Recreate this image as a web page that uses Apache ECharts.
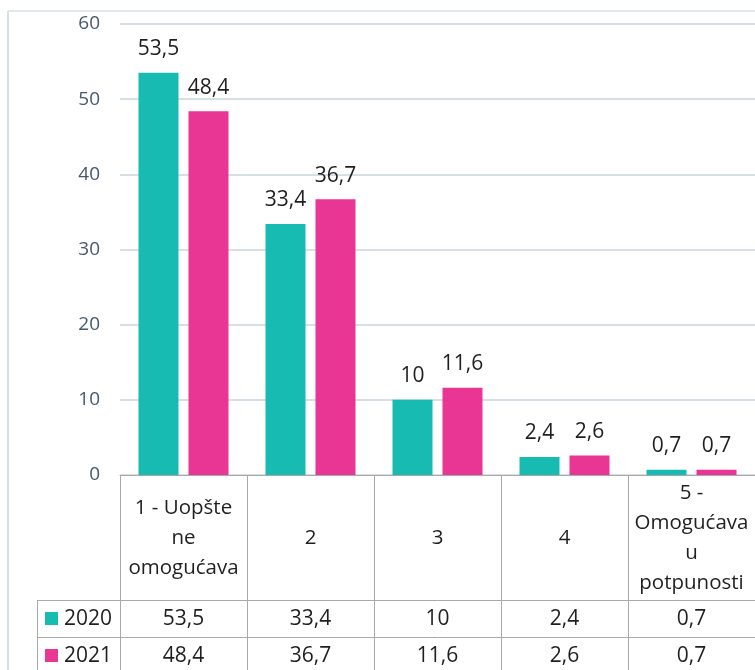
<!DOCTYPE html>
<html>
<head>
<meta charset="utf-8">
<script src="https://cdn.jsdelivr.net/npm/echarts@6/dist/echarts.min.js"></script>
<style>
html,body{margin:0;padding:0;background:#fff;}
#main{width:755px;height:670px;}
</style>
</head>
<body>
<div id="main"></div>
<script>
const categories = ['1 - Uopšte\nne\nomogućava', '2', '3', '4', '5 -\nOmogućava\nu\npotpunosti'];
const seriesNames = ['2020', '2021'];
const values2020 = [53.5, 33.4, 10, 2.4, 0.7];
const values2021 = [48.4, 36.7, 11.6, 2.6, 0.7];
const yMin = 0, yMax = 60, yStep = 10;

const colors = ['#18bbb1', '#e93593'];
const FONT = 'Open Sans';
const tableColor = '#a9a9a9';
const textColor = '#1f1f1f';
const fmt = v => String(v).replace('.', ',');

const chart = echarts.init(document.getElementById('main'), null, {renderer: 'canvas'});

const rowAxis = (vals, offset) => ({
  type: 'category',
  gridIndex: 0,
  position: 'bottom',
  offset: offset,
  data: vals.map(fmt),
  axisLine: {show: true, lineStyle: {color: tableColor, width: 1}},
  axisTick: {show: false},
  axisLabel: {interval: 0, margin: 19, verticalAlign: 'middle', fontFamily: FONT, fontSize: 21, color: textColor}
});

const option = {
  animation: false,
  backgroundColor: '#fff',
  grid: {left: 120, top: 24, width: 640, height: 451, containLabel: false},
  xAxis: [
    {
      type: 'category',
      data: categories,
      axisLine: {show: true, lineStyle: {color: tableColor, width: 1}},
      axisTick: {show: true, alignWithLabel: false, length: 210, lineStyle: {color: tableColor, width: 1}},
      axisLabel: {interval: 0, margin: 63, verticalAlign: 'middle', lineHeight: 30, fontFamily: FONT, fontSize: 20.5, color: textColor}
    },
    rowAxis(values2020, 125),
    rowAxis(values2021, 162)
  ],
  yAxis: {
    type: 'value', min: yMin, max: yMax, interval: yStep,
    axisLine: {show: false}, axisTick: {show: false},
    axisLabel: {margin: 20, fontFamily: FONT, fontSize: 19, color: '#44596e'},
    splitLine: {lineStyle: {color: '#d6dee6', width: 2}}
  },
  series: [values2020, values2021].map((vals, i) => ({
    name: seriesNames[i],
    type: 'bar',
    data: vals,
    barWidth: 40,
    barGap: '25%',
    itemStyle: {color: colors[i]},
    label: {show: true, position: 'top', distance: 13, formatter: p => fmt(p.value), fontFamily: FONT, fontSize: 21, color: textColor}
  })),
  graphic: [
    {type: 'line', shape: {x1: 8, y1: 11, x2: 755, y2: 11}, style: {stroke: '#e3e8ed', lineWidth: 2}, z: 0},
    {type: 'line', shape: {x1: 8, y1: 11, x2: 8, y2: 670}, style: {stroke: '#d8e0e7', lineWidth: 2}, z: 0},
    {type: 'line', shape: {x1: 37, y1: 600.5, x2: 120, y2: 600.5}, style: {stroke: tableColor, lineWidth: 1}},
    {type: 'line', shape: {x1: 37, y1: 637.5, x2: 120, y2: 637.5}, style: {stroke: tableColor, lineWidth: 1}},
    {type: 'line', shape: {x1: 37.5, y1: 600, x2: 37.5, y2: 680}, style: {stroke: tableColor, lineWidth: 1}},
    {type: 'rect', shape: {x: 45, y: 612, width: 13, height: 13}, style: {fill: colors[0]}},
    {type: 'rect', shape: {x: 45, y: 649, width: 13, height: 13}, style: {fill: colors[1]}},
    {type: 'text', x: 64, y: 619, style: {text: seriesNames[0], font: '21px "Open Sans"', fill: textColor, textVerticalAlign: 'middle'}},
    {type: 'text', x: 64, y: 656, style: {text: seriesNames[1], font: '21px "Open Sans"', fill: textColor, textVerticalAlign: 'middle'}}
  ]
};
chart.setOption(option);
</script>
</body>
</html>
